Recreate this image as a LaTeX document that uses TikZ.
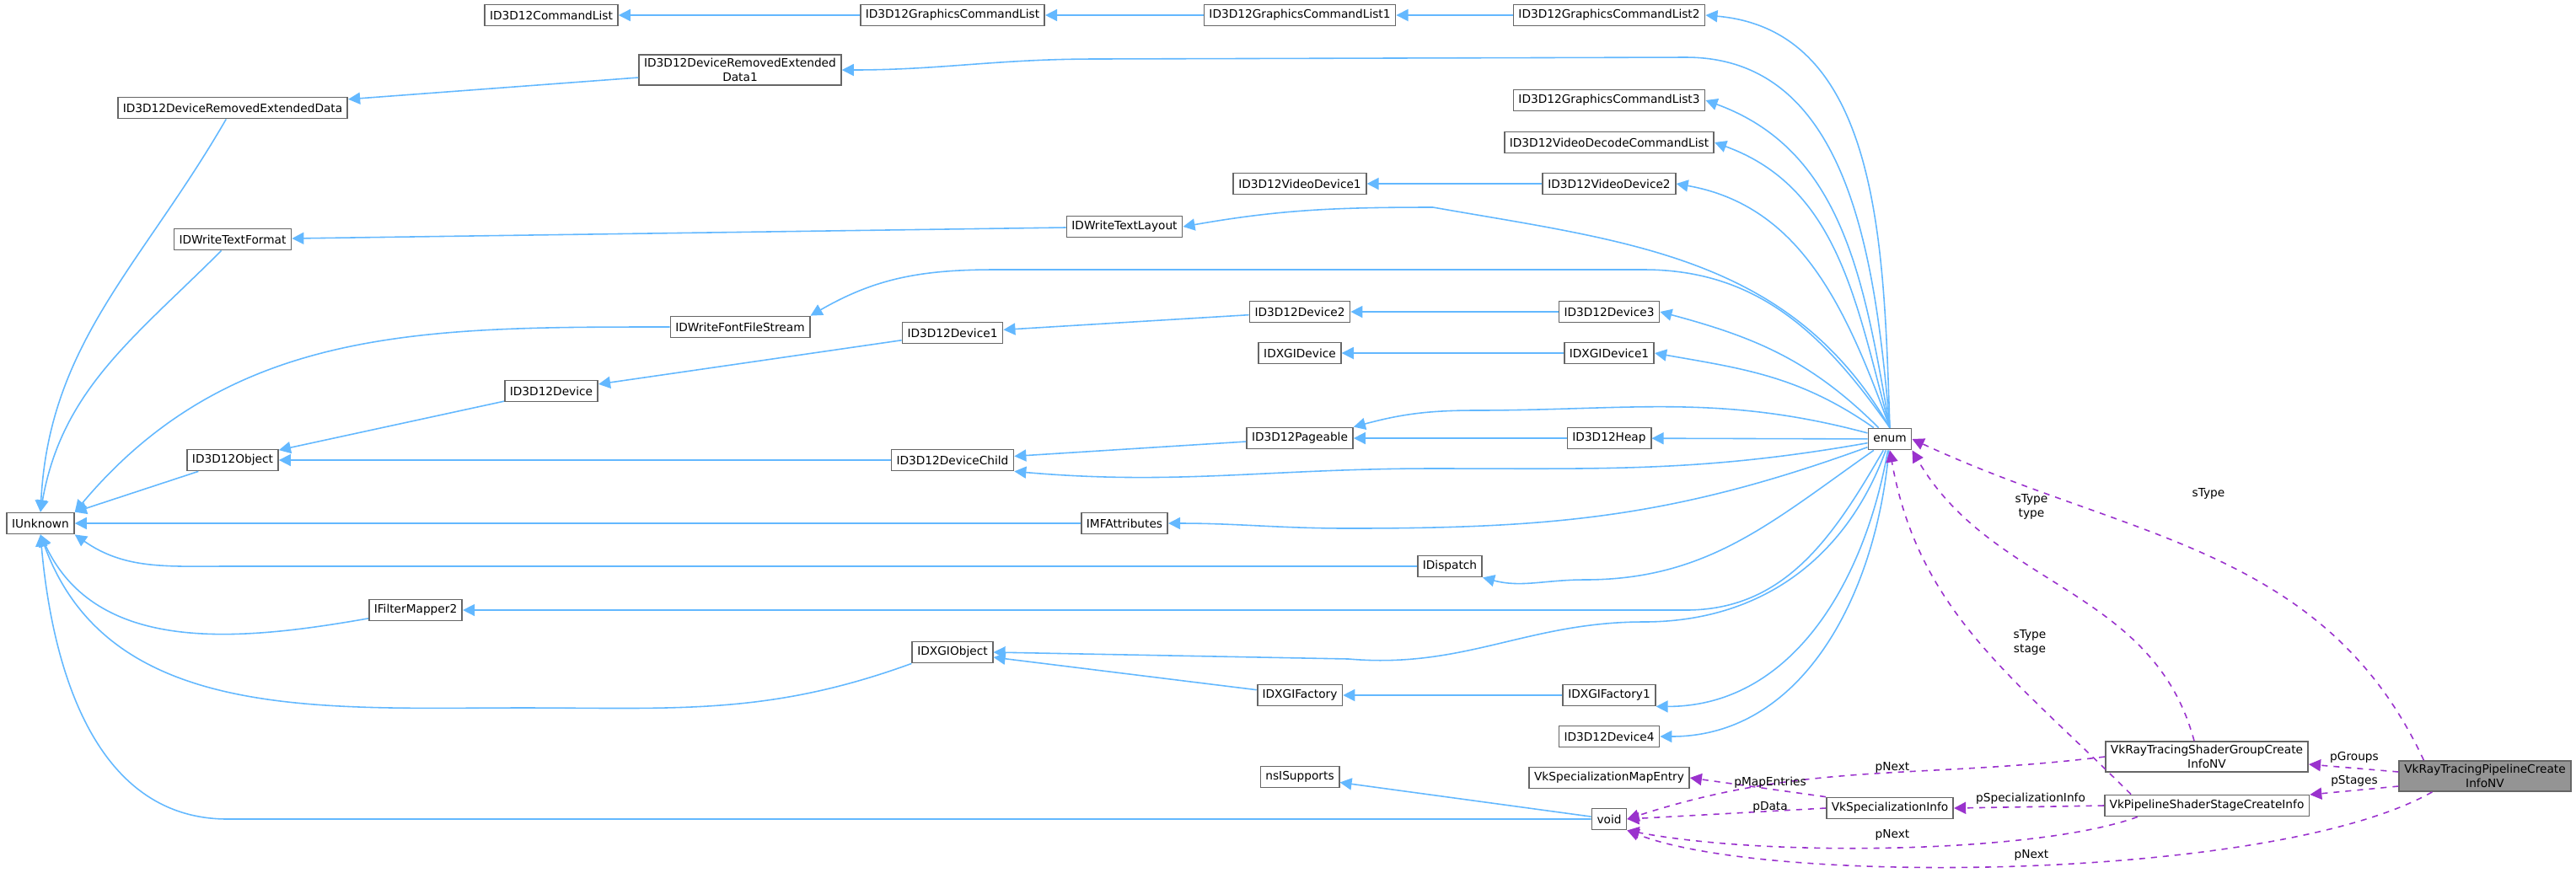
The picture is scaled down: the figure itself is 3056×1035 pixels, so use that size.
\documentclass[tikz,border=0pt]{standalone}
\usepackage{fontspec}
\setmainfont{DejaVu Sans}
\usetikzlibrary{arrows.meta,positioning}
\definecolor{inhblue}{HTML}{63B8FF}
\definecolor{usepurple}{HTML}{9A32CD}
\begin{document}
\begin{tikzpicture}[x=0.01cm, y=-0.01cm,
    cls/.style={draw=black!60, fill=white, line width=0.5pt, inner xsep=0.06cm, inner ysep=1.2pt,
      minimum height=0.25cm, font=\fontsize{3.9}{4.8}\selectfont, align=center},
    main/.style={cls, fill=black!42},
    inh/.style={draw=inhblue, line width=0.45pt, -{Triangle[length=4pt,width=4pt]}},
    use/.style={draw=usepurple, line width=0.45pt, dashed, dash pattern=on 2pt off 2pt, -{Triangle[length=4pt,width=4pt]}},
    lbl/.style={font=\fontsize{3.9}{4.8}\selectfont, align=center, inner sep=0pt}
]
\useasboundingbox (0,0) rectangle (3056,1035);

% classes
\node[cls] (unk) at (48,621) {IUnknown};
\node[cls] (dred) at (276,128) {ID3D12DeviceRemovedExtendedData};
\node[cls] (wtf) at (276,284) {IDWriteTextFormat};
\node[cls] (obj) at (276,546) {ID3D12Object};
\node[cls] (fm2) at (493,724) {IFilterMapper2};
\node[cls] (cl) at (654,18) {ID3D12CommandList};
\node[cls] (dev) at (654,464) {ID3D12Device};
\node[cls] (dred1) at (878,83) {ID3D12DeviceRemovedExtended\\Data1};
\node[cls] (ffs) at (878,388) {IDWriteFontFileStream};
\node[cls] (gcl) at (1130,18) {ID3D12GraphicsCommandList};
\node[cls] (dev1) at (1130,395) {ID3D12Device1};
\node[cls] (child) at (1130,546) {ID3D12DeviceChild};
\node[cls] (dxobj) at (1130,774) {IDXGIObject};
\node[cls] (wtl) at (1334,269) {IDWriteTextLayout};
\node[cls] (mfa) at (1334,621) {IMFAttributes};
\node[cls] (gcl1) at (1542,18) {ID3D12GraphicsCommandList1};
\node[cls] (vd1) at (1542,218) {ID3D12VideoDevice1};
\node[cls] (dev2) at (1542,370) {ID3D12Device2};
\node[cls] (dxdev) at (1542,419) {IDXGIDevice};
\node[cls] (page) at (1542,520) {ID3D12Pageable};
\node[cls] (dxfac) at (1542,825) {IDXGIFactory};
\node[cls] (nsis) at (1542,922) {nsISupports};
\node[cls] (disp) at (1720,672) {IDispatch};
\node[cls] (gcl2) at (1909,18) {ID3D12GraphicsCommandList2};
\node[cls] (gcl3) at (1909,119) {ID3D12GraphicsCommandList3};
\node[cls] (vdcl) at (1909,169) {ID3D12VideoDecodeCommandList};
\node[cls] (vd2) at (1909,218) {ID3D12VideoDevice2};
\node[cls] (dev3) at (1909,370) {ID3D12Device3};
\node[cls] (dxdev1) at (1909,419) {IDXGIDevice1};
\node[cls] (heap) at (1909,520) {ID3D12Heap};
\node[cls] (dxfac1) at (1909,825) {IDXGIFactory1};
\node[cls] (dev4) at (1909,874) {ID3D12Device4};
\node[cls] (mapent) at (1909,923) {VkSpecializationMapEntry};
\node[cls] (void) at (1909,972) {void};
\node[cls] (enum) at (2242,521) {enum};
\node[cls] (specinfo) at (2242,959) {VkSpecializationInfo};
\node[cls] (sgci) at (2618,898) {VkRayTracingShaderGroupCreate\\InfoNV};
\node[cls] (sscI) at (2618,956) {VkPipelineShaderStageCreateInfo};
\node[main] (rtpci) at (2948,921) {VkRayTracingPipelineCreate\\InfoNV};

% inheritance
\draw[inh] (gcl) -- (cl);
\draw[inh] (gcl1) -- (gcl);
\draw[inh] (gcl2) -- (gcl1);
\draw[inh] (enum.north) to[out=92,in=-5] (gcl2.east);
\draw[inh] (enum.north) to[out=95,in=0] (2000,68) -- (1300,70) to[out=180,in=0] (dred1.east);
\draw[inh] (dred1) -- (dred);
\draw[inh] (dred) to[out=-120,in=87] (unk.north);
\draw[inh] (enum.north) to[out=100,in=-20] (gcl3.east);
\draw[inh] (enum.north) to[out=105,in=-20] (vdcl.east);
\draw[inh] (enum.north) to[out=110,in=-10] (vd2.east);
\draw[inh] (vd2) -- (vd1);
\draw[inh] (enum.north) to[out=120,in=-10] (1700,246) to[out=180,in=10] (wtl.east);
\draw[inh] (wtl) -- (wtf);
\draw[inh] (wtf) to[out=-135,in=80] (unk.north);
\draw[inh] (enum.north) to[out=125,in=0] (1950,320) -- (1180,320) to[out=180,in=30] (ffs.north east);
\draw[inh] (ffs.west) to[out=180,in=50] (unk.north east);
\draw[inh] (enum) to[out=135,in=-15] (dev3.east);
\draw[inh] (dev3) -- (dev2);
\draw[inh] (dev2) -- (dev1);
\draw[inh] (dev1) -- (dev);
\draw[inh] (dev) -- (obj);
\draw[inh] (obj) -- (unk);
\draw[inh] (enum) to[out=145,in=-10] (dxdev1.east);
\draw[inh] (dxdev1) -- (dxdev);
\draw[inh] (enum) to[out=165,in=0] (1750,487) to[out=180,in=15] (page.north east);
\draw[inh] (enum) -- (heap);
\draw[inh] (heap) -- (page);
\draw[inh] (page) -- (child);
\draw[inh] (enum) to[out=190,in=0] (1700,556) to[out=180,in=-5] (child.south east);
\draw[inh] (child) -- (obj);
\draw[inh] (enum) to[out=200,in=0] (1600,627) to[out=180,in=0] (mfa.east);
\draw[inh] (mfa) -- (unk);
\draw[inh] (enum) to[out=215,in=0] (1880,688) to[out=180,in=-15] (disp.south east);
\draw[inh] (disp) -- (270,672) to[out=180,in=-35] (unk.south east);
\draw[inh] (enum) to[out=240,in=0] (2000,724) -- (fm2.east);
\draw[inh] (fm2) to[out=190,in=-65] (unk.south);
\draw[inh] (enum) to[out=250,in=0] (1950,738) to[out=180,in=-5] (1600,782) -- (dxobj.east);
\draw[inh] (dxobj.south west) to[out=200,in=0] (620,840) to[out=180,in=-70] (unk.south);
\draw[inh] (dxfac) -- (dxobj);
\draw[inh] (dxfac1) -- (dxfac);
\draw[inh] (enum) to[out=260,in=0] (dxfac1.south east);
\draw[inh] (enum) to[out=265,in=0] (dev4.east);
\draw[inh] (void) -- (270,972) to[out=180,in=-85] (unk.south);
\draw[inh] (void) -- (nsis);

% members
\draw[use] (rtpci.north west) ++(30,0) to[out=115,in=-25] (enum.east);
\draw[use] (sgci.north) ++(-15,0) to[out=105,in=-60] (enum.south east);
\draw[use] (sscI.north) ++(-90,0) to[out=135,in=-80] (enum.south);
\draw[use] (rtpci.west |- 0,916) -- (sgci.east |- 0,907);
\draw[use] (rtpci.west |- 0,933) -- (sscI.east |- 0,943);
\draw[use] (sgci.west) to[out=187,in=18] (void.east);
\draw[use] (specinfo.north west) -- (mapent.east);
\draw[use] (specinfo.west) -- (void.east);
\draw[use] (sscI.west) -- (specinfo.east);
\draw[use] (sscI.south west) ++(40,0) .. controls (2420,1012) and (2100,1018) .. (void.south east);
\draw[use] (rtpci.south west) ++(40,0) .. controls (2700,1045) and (2100,1052) .. (void.south east);

% member labels
\node[lbl] (lstype) at (2620,586) {sType};
\node[lbl] (ltype) at (2410,601) {sType\\type};
\node[lbl] (lstage) at (2408,762) {sType\\stage};
\node[lbl] (lgroups) at (2793,899) {pGroups};
\node[lbl] (lstages) at (2793,927) {pStages};
\node[lbl] (lnext1) at (2245,911) {pNext};
\node[lbl] (lmap) at (2100,929) {pMapEntries};
\node[lbl] (ldata) at (2100,958) {pData};
\node[lbl] (lspec) at (2409,948) {pSpecializationInfo};
\node[lbl] (lnext2) at (2245,991) {pNext};
\node[lbl] (lnext3) at (2410,1015) {pNext};
\end{tikzpicture}
\end{document}
